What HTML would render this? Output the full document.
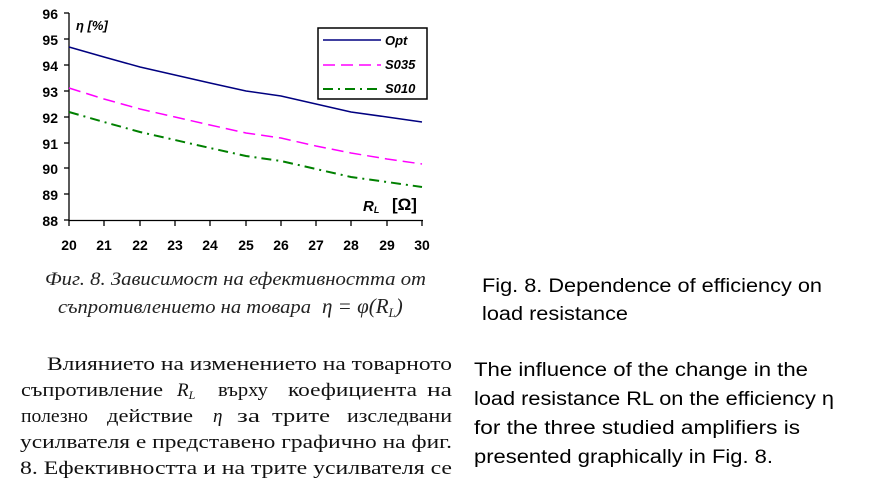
<!DOCTYPE html>
<html><head><meta charset="utf-8"><style>
html,body{margin:0;padding:0;background:#fff;width:889px;height:493px;overflow:hidden}
</style></head><body>
<svg width="889" height="493" xmlns="http://www.w3.org/2000/svg">
<g font-family="Liberation Sans, sans-serif" font-weight="bold" font-size="14" text-anchor="end">
<text x="58" y="19">96</text><text x="58" y="45">95</text><text x="58" y="71">94</text><text x="58" y="97">93</text>
<text x="58" y="123">92</text><text x="58" y="149">91</text><text x="58" y="174">90</text><text x="58" y="200">89</text><text x="58" y="226">88</text>
</g>
<g stroke="#000" stroke-width="1.3">
<line x1="69" y1="13" x2="69" y2="221"/><line x1="69" y1="220.5" x2="423" y2="220.5"/>
<line x1="64" y1="13" x2="69" y2="13"/><line x1="64" y1="39" x2="69" y2="39"/><line x1="64" y1="65" x2="69" y2="65"/><line x1="64" y1="91" x2="69" y2="91"/><line x1="64" y1="117" x2="69" y2="117"/><line x1="64" y1="143" x2="69" y2="143"/><line x1="64" y1="168" x2="69" y2="168"/><line x1="64" y1="194" x2="69" y2="194"/><line x1="64" y1="220" x2="69" y2="220"/>
<line x1="69" y1="220" x2="69" y2="226"/><line x1="104" y1="220" x2="104" y2="226"/><line x1="140" y1="220" x2="140" y2="226"/><line x1="175" y1="220" x2="175" y2="226"/><line x1="210" y1="220" x2="210" y2="226"/><line x1="246" y1="220" x2="246" y2="226"/><line x1="281" y1="220" x2="281" y2="226"/><line x1="316" y1="220" x2="316" y2="226"/><line x1="351" y1="220" x2="351" y2="226"/><line x1="387" y1="220" x2="387" y2="226"/><line x1="422" y1="220" x2="422" y2="226"/>
</g>
<g font-family="Liberation Sans, sans-serif" font-weight="bold" font-size="14" text-anchor="middle">
<text x="69" y="250">20</text><text x="104" y="250">21</text><text x="140" y="250">22</text><text x="175" y="250">23</text><text x="210" y="250">24</text><text x="246" y="250">25</text><text x="281" y="250">26</text><text x="316" y="250">27</text><text x="351" y="250">28</text><text x="387" y="250">29</text><text x="422" y="250">30</text>
</g>
<text x="76" y="30" font-family="Liberation Sans, sans-serif" font-style="italic" font-weight="bold" font-size="13">η [%]</text>
<text x="363" y="211" font-family="Liberation Sans, sans-serif" font-style="italic" font-weight="bold" font-size="15">R<tspan font-size="9" dy="2">L</tspan></text>
<text x="392" y="210" font-family="Liberation Sans, sans-serif" font-weight="bold" font-size="17">[Ω]</text>
<polyline fill="none" stroke="#000080" stroke-width="1.5" points="69,47 104,57 140,67 175,75 210,83 246,91 281,96 316,104 351,112 387,117 422,122"/>
<polyline fill="none" stroke="#ff00ff" stroke-width="1.5" stroke-dasharray="12,6" points="69,88 104,99 140,109 175,117 210,125 246,133 281,138 316,146 351,153 387,159 422,164"/>
<polyline fill="none" stroke="#008000" stroke-width="2" stroke-dasharray="10,5,2,5" points="69,112 104,122 140,132 175,140 210,148 246,156 281,161 316,169 351,177 387,182 422,187"/>
<rect x="318" y="28" width="109" height="71" fill="#fff" stroke="#000" stroke-width="1.5"/>
<line x1="323" y1="40" x2="381" y2="40" stroke="#000080" stroke-width="1.5"/>
<line x1="323" y1="65" x2="381" y2="65" stroke="#ff00ff" stroke-width="1.5" stroke-dasharray="12,6"/>
<line x1="323" y1="89" x2="381" y2="89" stroke="#008000" stroke-width="2" stroke-dasharray="10,5,2,5"/>
<g font-family="Liberation Sans, sans-serif" font-style="italic" font-weight="bold" font-size="13">
<text x="385" y="45">Opt</text><text x="385" y="69">S035</text><text x="385" y="93">S010</text>
</g>
<g font-family="Liberation Serif, serif" font-style="italic" font-size="19" fill="#222">
<text x="45" y="285" textLength="381" lengthAdjust="spacingAndGlyphs">Фиг. 8. Зависимост на ефективността от</text>
<text x="58" y="313" textLength="253" lengthAdjust="spacingAndGlyphs">съпротивлението на товара</text>
<text x="322" y="313" font-size="21">η = φ(R<tspan font-size="13" dy="4">L</tspan><tspan dy="-4">)</tspan></text>
</g>
<g font-family="Liberation Serif, serif" font-size="19" fill="#111">
<text x="47" y="370" textLength="405" lengthAdjust="spacingAndGlyphs">Влиянието на изменението на товарното</text>
<text x="21" y="396" textLength="142" lengthAdjust="spacingAndGlyphs">съпротивление</text>
<text x="177" y="396" font-style="italic">R<tspan font-size="12" dy="3">L</tspan></text>
<text x="218" y="396" textLength="50" lengthAdjust="spacingAndGlyphs">върху</text>
<text x="288" y="396" textLength="129" lengthAdjust="spacingAndGlyphs">коефициента</text>
<text x="427" y="396" textLength="25" lengthAdjust="spacingAndGlyphs">на</text>
<text x="21" y="422" textLength="67" lengthAdjust="spacingAndGlyphs">полезно</text>
<text x="107" y="422" textLength="86" lengthAdjust="spacingAndGlyphs">действие</text>
<text x="213" y="422" font-style="italic">η</text>
<text x="237" y="422" textLength="23" lengthAdjust="spacingAndGlyphs">за</text>
<text x="272" y="422" textLength="58" lengthAdjust="spacingAndGlyphs">трите</text>
<text x="347" y="422" textLength="105" lengthAdjust="spacingAndGlyphs">изследвани</text>
<text x="20" y="448" textLength="432" lengthAdjust="spacingAndGlyphs">усилвателя е представено графично на фиг.</text>
<text x="20" y="474" textLength="432" lengthAdjust="spacingAndGlyphs">8. Ефективността и на трите усилвателя се</text>
</g>
<g font-family="Liberation Sans, sans-serif" font-size="19" fill="#000">
<text x="482" y="292" textLength="340" lengthAdjust="spacingAndGlyphs">Fig. 8. Dependence of efficiency on</text>
<text x="482" y="320" textLength="146" lengthAdjust="spacingAndGlyphs">load resistance</text>
<text x="474" y="376" textLength="334" lengthAdjust="spacingAndGlyphs">The influence of the change in the</text>
<text x="474" y="405" textLength="360" lengthAdjust="spacingAndGlyphs">load resistance RL on the efficiency η</text>
<text x="474" y="434" textLength="326" lengthAdjust="spacingAndGlyphs">for the three studied amplifiers is</text>
<text x="474" y="463" textLength="299" lengthAdjust="spacingAndGlyphs">presented graphically in Fig. 8.</text>
</g>
</svg>
</body></html>
